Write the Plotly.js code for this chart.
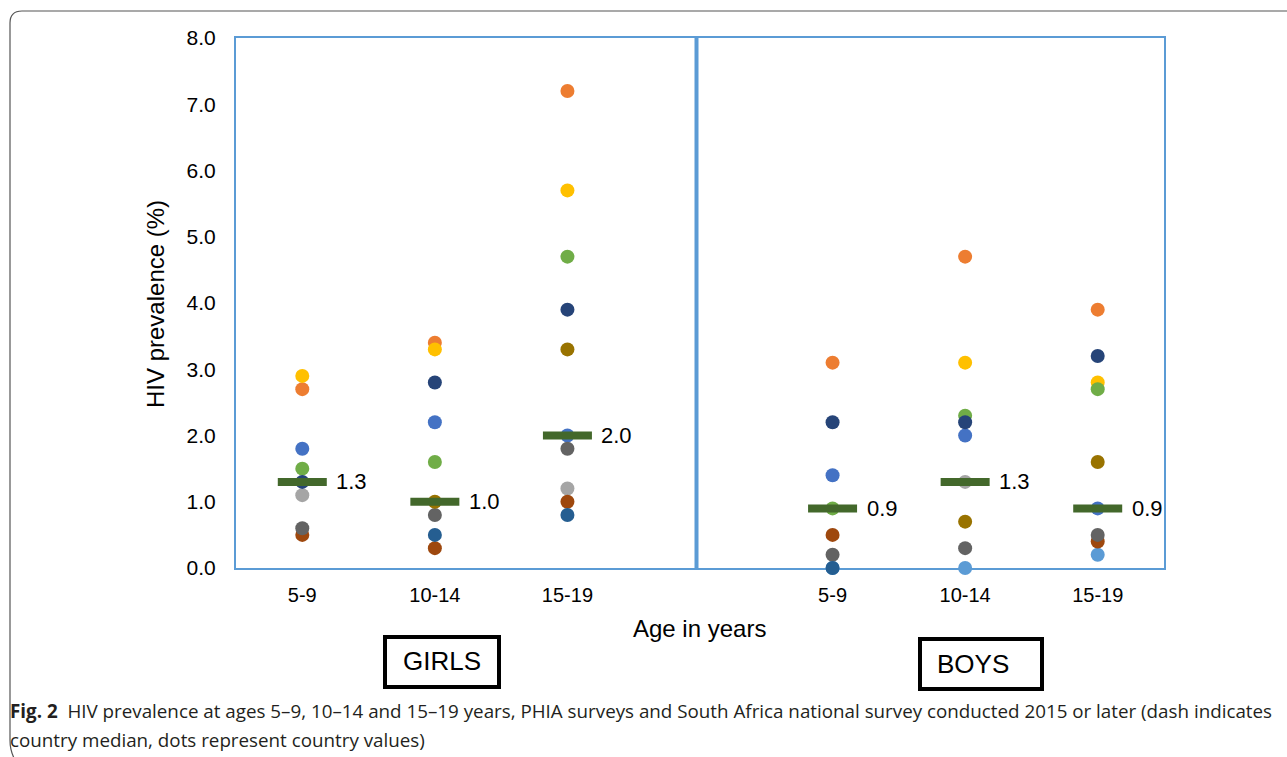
<!DOCTYPE html>
<html>
<head>
<meta charset="utf-8">
<script src="https://cdn.plot.ly/plotly-3.0.1.min.js"></script>
<style>html,body{margin:0;padding:0;background:#fff;}#chart{width:1287px;height:757px;}</style>
</head>
<body>
<div id="chart"></div>
<script>
// Age groups: girls (first three) and boys (last three)
const ageGroups = ["5-9", "10-14", "15-19", "5-9", "10-14", "15-19"];
const groupPos = [1, 2, 3, 5, 6, 7];

// Country values (HIV prevalence %), order: girls 5-9, 10-14, 15-19, boys 5-9, 10-14, 15-19
const country1  = [1.8, 2.2, 2.0, 1.4, 2.0, 0.9];
const country2  = [2.7, 3.4, 7.2, 3.1, 4.7, 3.9];
const country3  = [1.1, null, 1.2, null, 1.3, null];
const country4  = [2.9, 3.3, 5.7, null, 3.1, 2.8];
const country5  = [null, null, null, 0.0, 0.0, 0.2];
const country6  = [1.5, 1.6, 4.7, 0.9, 2.3, 2.7];
const country7  = [1.3, 2.8, 3.9, 2.2, 2.2, 3.2];
const country8  = [0.5, 0.3, 1.0, 0.5, null, 0.4];
const country9  = [0.6, 0.8, 1.8, 0.2, 0.3, 0.5];
const country10 = [null, 1.0, 3.3, null, 0.7, 1.6];
const country11 = [null, 0.5, 0.8, 0.0, null, null];

// Country medians
const medians = [1.3, 1.0, 2.0, 0.9, 1.3, 0.9];

const seriesValues = [country1, country2, country3, country4, country5, country6,
                      country7, country8, country9, country10, country11];
const seriesNames = ["Country 1","Country 2","Country 3","Country 4","Country 5","Country 6",
                     "Country 7","Country 8","Country 9","Country 10","Country 11"];
const seriesColors = ["#4472C4","#ED7D31","#A5A5A5","#FFC000","#5B9BD5","#70AD47",
                      "#264478","#9E480E","#636363","#997300","#255E91"];

const traces = seriesValues.map((vals, i) => ({
  type: "scatter", mode: "markers", name: seriesNames[i],
  x: groupPos, y: vals, cliponaxis: false, showlegend: false,
  marker: {size: 14, color: seriesColors[i]}
}));
traces.push({
  type: "scatter", mode: "markers", name: "Median",
  x: groupPos, y: medians, cliponaxis: false, showlegend: false,
  marker: {symbol: "line-ew", size: 35, color: "#43682B", line: {color: "#43682B", width: 8}}
});

const FONT = "Liberation Sans, Arial, sans-serif";
const annotations = medians.map((m, i) => ({
  x: groupPos[i], y: m, xref: "x", yref: "y", text: m.toFixed(1),
  showarrow: false, xanchor: "left", yanchor: "middle", xshift: 32,
  font: {family: FONT, size: 22, color: "#000"}
}));
// paper helpers (plot area: x 236..1164, y 38..568)
const px = p => (p - 236) / 928;
const py = p => (568 - p) / 530;

const CAPFONT = {family: "Open Sans, sans-serif", size: 18.8, color: "#231f20"};
annotations.push(
  {x: px(699), y: py(628), xref: "paper", yref: "paper", text: "Age in years", showarrow: false,
   xanchor: "center", yanchor: "middle", font: {family: FONT, size: 24, color: "#000"}},
  {x: px(155), y: py(304), xref: "paper", yref: "paper", text: "HIV prevalence (%)", showarrow: false,
   textangle: -90, xanchor: "center", yanchor: "middle", font: {family: FONT, size: 24, color: "#000"}},
  {x: px(441.5), y: py(661), xref: "paper", yref: "paper", text: "GIRLS", showarrow: false,
   xanchor: "center", yanchor: "middle", font: {family: FONT, size: 26, color: "#000"}},
  {x: px(973), y: py(664), xref: "paper", yref: "paper", text: "BOYS", showarrow: false,
   xanchor: "center", yanchor: "middle", font: {family: FONT, size: 26, color: "#000"}},
  {x: px(8), y: py(711), xref: "paper", yref: "paper", showarrow: false, xanchor: "left", yanchor: "middle",
   text: "<b>Fig. 2</b>  HIV prevalence at ages 5–9, 10–14 and 15–19 years, PHIA surveys and South Africa national survey conducted 2015 or later (dash indicates",
   font: CAPFONT},
  {x: px(8), y: py(740), xref: "paper", yref: "paper", showarrow: false, xanchor: "left", yanchor: "middle",
   text: "country median, dots represent country values)",
   font: CAPFONT}
);

const shapes = [
  {type: "line", xref: "paper", yref: "paper", x0: px(696.5), x1: px(696.5), y0: py(570), y1: 1,
   line: {color: "#5B9BD5", width: 4}},
  {type: "rect", xref: "paper", yref: "paper", x0: px(385), x1: px(499), y0: py(687), y1: py(637),
   line: {color: "#000", width: 4}},
  {type: "rect", xref: "paper", yref: "paper", x0: px(920), x1: px(1042), y0: py(689), y1: py(639),
   line: {color: "#000", width: 4}},
  {type: "path", xref: "paper", yref: "paper",
   path: `M ${px(1290)},${py(11)} L ${px(22)},${py(11)} Q ${px(10)},${py(11)} ${px(10)},${py(23)} L ${px(10)},${py(740)} Q ${px(10)},${py(750)} ${px(14)},${py(758)}`,
   line: {color: "#555", width: 1.2}}
];

const layout = {
  width: 1287, height: 757,
  margin: {l: 236, r: 123, t: 38, b: 189},
  paper_bgcolor: "#fff", plot_bgcolor: "#fff",
  showlegend: false,
  font: {family: FONT, color: "#000"},
  xaxis: {
    range: [0.5, 7.5], tickvals: groupPos, ticktext: ageGroups,
    showgrid: false, zeroline: false, showline: true, mirror: true,
    linecolor: "#5B9BD5", linewidth: 2, ticks: "", layer: "below traces",
    tickfont: {family: FONT, size: 20, color: "#000"}, ticklabelstandoff: 8
  },
  yaxis: {
    range: [0, 8], tickvals: [0,1,2,3,4,5,6,7,8], tickformat: ".1f",
    showgrid: false, zeroline: false, showline: true, mirror: true,
    linecolor: "#5B9BD5", linewidth: 2, ticks: "", layer: "below traces",
    tickfont: {family: FONT, size: 21, color: "#000"}, ticklabelstandoff: 14
  },
  annotations: annotations,
  shapes: shapes
};

Plotly.newPlot("chart", traces, layout, {displayModeBar: false, staticPlot: true});
</script>
</body>
</html>
